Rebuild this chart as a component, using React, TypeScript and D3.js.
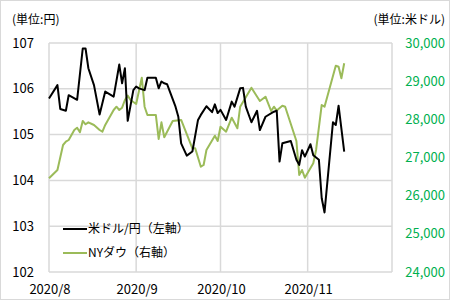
import React from "react";
import * as d3 from "d3";

const usdDates = ["2020-08-01","2020-08-04","2020-08-05","2020-08-07","2020-08-08","2020-08-11","2020-08-13","2020-08-14","2020-08-15","2020-08-17","2020-08-19","2020-08-21","2020-08-24","2020-08-26","2020-08-27","2020-08-28","2020-08-29","2020-08-31","2020-09-01","2020-09-02","2020-09-04","2020-09-05","2020-09-08","2020-09-09","2020-09-10","2020-09-11","2020-09-12","2020-09-15","2020-09-16","2020-09-17","2020-09-19","2020-09-21","2020-09-23","2020-09-24","2020-09-26","2020-09-28","2020-09-29","2020-09-30","2020-10-01","2020-10-03","2020-10-05","2020-10-06","2020-10-08","2020-10-09","2020-10-10","2020-10-12","2020-10-14","2020-10-15","2020-10-17","2020-10-20","2020-10-21","2020-10-22","2020-10-23","2020-10-26","2020-10-28","2020-10-29","2020-10-30","2020-10-31","2020-11-02","2020-11-03","2020-11-05","2020-11-06","2020-11-07","2020-11-10","2020-11-11","2020-11-12","2020-11-14"];
const usdJpy = [105.79,106.08,105.56,105.52,105.86,105.76,106.88,106.88,106.45,106.08,105.44,105.94,105.83,106.53,106.12,106.45,105.30,105.97,106.05,106.01,105.97,106.24,106.24,106.01,106.16,106.12,106.10,105.61,105.39,104.81,104.54,104.63,105.32,105.43,105.62,105.49,105.66,105.47,105.54,105.32,105.72,105.61,106.01,106.02,105.61,105.27,105.52,105.10,105.39,105.50,105.52,104.41,104.81,104.86,104.45,104.34,104.66,104.52,104.79,104.55,104.45,103.61,103.30,105.27,105.21,105.63,104.63];

const dowDates = ["2020-08-01","2020-08-04","2020-08-06","2020-08-07","2020-08-08","2020-08-10","2020-08-11","2020-08-12","2020-08-13","2020-08-14","2020-08-15","2020-08-17","2020-08-19","2020-08-20","2020-08-21","2020-08-24","2020-08-25","2020-08-26","2020-08-27","2020-08-28","2020-08-29","2020-08-30","2020-09-01","2020-09-03","2020-09-04","2020-09-05","2020-09-08","2020-09-09","2020-09-10","2020-09-11","2020-09-14","2020-09-17","2020-09-21","2020-09-22","2020-09-24","2020-09-25","2020-09-26","2020-09-29","2020-09-30","2020-10-01","2020-10-03","2020-10-05","2020-10-07","2020-10-08","2020-10-12","2020-10-15","2020-10-17","2020-10-19","2020-10-20","2020-10-21","2020-10-23","2020-10-24","2020-10-28","2020-10-29","2020-10-30","2020-10-31","2020-11-03","2020-11-04","2020-11-06","2020-11-07","2020-11-11","2020-11-12","2020-11-13","2020-11-14"];
const nyDow = [26455,26673,27328,27414,27459,27721,27781,27660,27957,27870,27922,27852,27721,27676,27852,28245,28331,28245,28305,28507,28620,28507,28402,29091,28331,28114,28114,27485,27922,27530,27957,27983,27241,27241,26759,26804,27197,27571,27433,27807,27676,28043,27765,28331,28829,28480,28593,28219,28331,28230,28357,28331,27433,26542,26673,26471,26848,27197,28376,28331,29405,29379,29075,29468];

const xTickDates = ["2020-08-01","2020-09-01","2020-10-01","2020-11-01"];
const xTickLabels = ["2020/8","2020/9","2020/10","2020/11"];
const leftTicks = [102,103,104,105,106,107];
const rightTicks = [24000,25000,26000,27000,28000,29000,30000];
const seriesNames = ["米ドル/円（左軸）","NYダウ（右軸）"];

const W = 450, H = 301;
const M = { left: 49, right: 392, top: 43, bottom: 272 };
const FONT = "'Noto Sans CJK JP', 'Noto Sans', sans-serif";
const GREEN_LINE = "#9bbb59";
const GREEN_TEXT = "#00b050";
const GRID = "#d9d9d9";

export default function App() {
  const parse = d3.timeParse("%Y-%m-%d");
  const x = d3.scaleTime()
    .domain([parse("2020-08-01")!, parse("2020-12-01")!])
    .range([M.left, M.right]);
  const yL = d3.scaleLinear().domain([102, 107]).range([M.bottom, M.top]);
  const yR = d3.scaleLinear().domain([24000, 30000]).range([M.bottom, M.top]);

  const usdPts = usdDates.map((d, i) => [x(parse(d)!), yL(usdJpy[i])] as [number, number]);
  const dowPts = dowDates.map((d, i) => [x(parse(d)!), yR(nyDow[i])] as [number, number]);
  const line = d3.line();

  return (
    <svg width={W} height={H} style={{ position: "absolute", left: 0, top: 0, background: "#fff" }} fontFamily={FONT}>
      <rect x={0.5} y={0.5} width={W - 1} height={H - 2} fill="#fff" stroke={GRID} />
      {leftTicks.map(t => (
        <line key={"h" + t} x1={M.left} x2={M.right} y1={yL(t)} y2={yL(t)} stroke={GRID} strokeWidth={1.5} />
      ))}
      {xTickDates.map(d => (
        <line key={"v" + d} x1={x(parse(d)!)} x2={x(parse(d)!)} y1={M.top} y2={M.bottom} stroke={GRID} strokeWidth={1.5} />
      ))}
      <line x1={M.right} x2={M.right} y1={M.top} y2={M.bottom} stroke={GRID} strokeWidth={1.5} />
      {leftTicks.map(t => (
        <text key={"lt" + t} x={34} y={yL(t)} dy="0.35em" textAnchor="end" fontSize={13} fill="#000">{t}</text>
      ))}
      {rightTicks.map(t => (
        <text key={"rt" + t} x={445} y={yR(t)} dy="0.35em" textAnchor="end" fontSize={13} fill={GREEN_TEXT}>{d3.format(",")(t)}</text>
      ))}
      {xTickDates.map((d, i) => (
        <text key={"xt" + d} x={x(parse(d)!) + 1} y={294} textAnchor="middle" fontSize={13} fill="#000">{xTickLabels[i]}</text>
      ))}
      <text x={12} y={24} fontSize={12} fill="#000">(単位:円)</text>
      <text x={445} y={24} textAnchor="end" fontSize={12} fill="#000">(単位:米ドル)</text>
      <path d={line(dowPts)!} fill="none" stroke={GREEN_LINE} strokeWidth={2} strokeLinejoin="round" />
      <path d={line(usdPts)!} fill="none" stroke="#000" strokeWidth={2} strokeLinejoin="round" />
      <line x1={63} x2={87} y1={229} y2={229} stroke="#000" strokeWidth={2} />
      <text x={88} y={229} dy="0.35em" fontSize={12} fill="#000">{seriesNames[0]}</text>
      <line x1={63} x2={87} y1={253} y2={253} stroke={GREEN_LINE} strokeWidth={2} />
      <text x={88} y={253} dy="0.35em" fontSize={12} fill="#000">{seriesNames[1]}</text>
    </svg>
  );
}
